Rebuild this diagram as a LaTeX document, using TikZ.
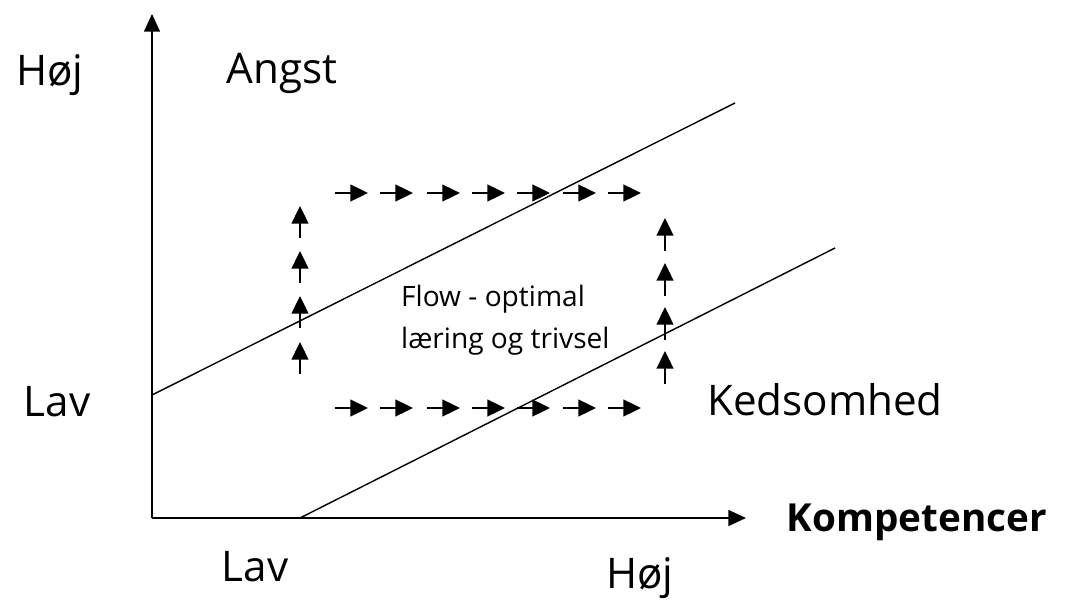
\documentclass[tikz,border=0pt]{standalone}
\usepackage{fontspec}
\setmainfont{Open Sans}
\usetikzlibrary{arrows.meta}

\begin{document}
\begin{tikzpicture}[x=0.02cm,y=-0.02cm,
		lbl/.style={font=\fontsize{24}{28}\selectfont},
		flowarrow/.style={line width=1.1pt,-{Triangle[length=10pt,width=9.5pt]}}]
			\useasboundingbox (0,0) rectangle (1067,604);
			% axes
			\coordinate (origin) at (152,518);
			\coordinate (ytop) at (152,14);
			\coordinate (xend) at (746,518);
			\draw[line width=1pt,-{Triangle[length=10pt,width=9pt]}] (origin) -- (ytop);
			\draw[line width=1pt,-{Triangle[length=10pt,width=9pt]}] (origin) -- (xend);
			% flow channel
			\coordinate (upA) at (152,395);
			\coordinate (upB) at (735,103);
			\coordinate (loA) at (300,518);
			\coordinate (loB) at (835,248);
			\draw[line width=0.8pt] (upA) -- (upB);
			\draw[line width=0.8pt] (loA) -- (loB);
			% small arrows round the box
			\foreach \x in {335,380,427,472,517,563,608}{
				\draw[flowarrow] (\x,193) -- (\x+33,193);
				\draw[flowarrow] (\x,408) -- (\x+33,408);
			}
			\foreach \y in {238,283,328,374}{
				\draw[flowarrow] (300,\y) -- (300,\y-32);
			}
			\foreach \y in {251,296,340,384}{
				\draw[flowarrow] (665,\y) -- (665,\y-33);
			}
			% labels
			\node[lbl] (hoejy) at (50,75) {Høj};
			\node[lbl] (angst) at (282,73) {Angst};
			\node[lbl] (lavy) at (57,402) {Lav};
			\node[lbl] (kedsom) at (825,400) {Kedsomhed};
			\node[font=\fontsize{22}{26}\selectfont\bfseries] (komp) at (917,522) {Kompetencer};
			\node[lbl] (lavx) at (255,567) {Lav};
			\node[lbl] (hoejx) at (640,578) {Høj};
			\node[font=\fontsize{16}{24}\selectfont,align=left,anchor=west] (flow) at (395,320) {Flow - optimal\\læring og trivsel};
		\end{tikzpicture}
\end{document}
